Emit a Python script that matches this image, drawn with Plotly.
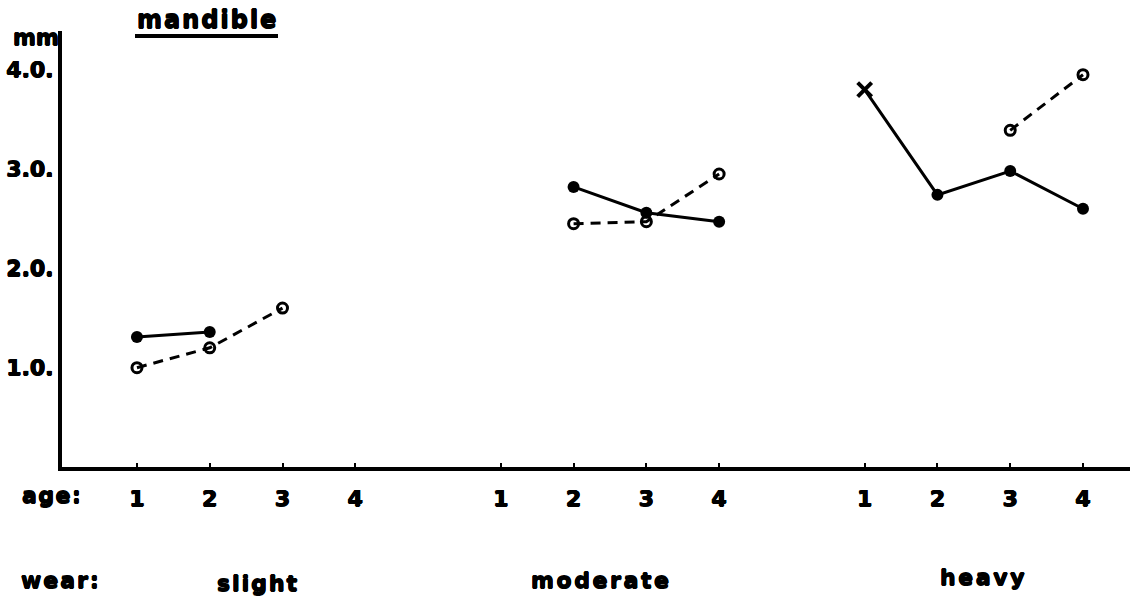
import plotly.graph_objects as go

# mandible measurements (mm) by wear class and age class
wear_classes = ["slight", "moderate", "heavy"]
age_labels = ["1", "2", "3", "4"]

# solid series (filled markers); heavy age 1 plotted as a cross
solid_slight_ages = [1, 2]
solid_slight_vals = [1.31, 1.36]
solid_moderate_ages = [2, 3, 4]
solid_moderate_vals = [2.82, 2.56, 2.47]
solid_heavy_ages = [1, 2, 3, 4]
solid_heavy_vals = [3.80, 2.74, 2.98, 2.60]

# dashed series (open markers)
open_slight_ages = [1, 2, 3]
open_slight_vals = [1.00, 1.20, 1.60]
open_moderate_ages = [2, 3, 4]
open_moderate_vals = [2.45, 2.47, 2.95]
open_heavy_ages = [3, 4]
open_heavy_vals = [3.39, 3.95]

y_ticks = [1, 2, 3, 4]
y_ticktext = ["1.0.", "2.0.", "3.0.", "4.0."]

GROUP_STEP = 5  # horizontal offset between wear blocks on the x scale

FONT = "DejaVu Sans"
# thin outline around glyphs to give a heavier face
HEAVY = ("0.6px 0 0 black, -0.6px 0 0 black, 0 0.6px 0 black, "
         "0 -0.6px 0 black")
W, H = 1133, 598
L, R, T, B = 62, 3, 31, 131


def pos(group, ages):
    return [group * GROUP_STEP + a for a in ages]


def join_groups(groups):
    xs, ys = [], []
    for i, (ages, vals) in enumerate(groups):
        if i:
            xs.append(None)
            ys.append(None)
        xs += ages
        ys += vals
    return xs, ys


solid_x, solid_y = join_groups([
    (pos(0, solid_slight_ages), solid_slight_vals),
    (pos(1, solid_moderate_ages), solid_moderate_vals),
    (pos(2, solid_heavy_ages), solid_heavy_vals),
])
open_x, open_y = join_groups([
    (pos(0, open_slight_ages), open_slight_vals),
    (pos(1, open_moderate_ages), open_moderate_vals),
    (pos(2, open_heavy_ages), open_heavy_vals),
])

# the first heavy-wear point is drawn as a cross, the rest as dots
cross_x = pos(2, solid_heavy_ages[:1])
cross_y = solid_heavy_vals[:1]
dot_x, dot_y = join_groups([
    (pos(0, solid_slight_ages), solid_slight_vals),
    (pos(1, solid_moderate_ages), solid_moderate_vals),
    (pos(2, solid_heavy_ages[1:]), solid_heavy_vals[1:]),
])

fig = go.Figure()
fig.add_trace(go.Scatter(
    x=open_x, y=open_y, mode="lines+markers", connectgaps=False,
    line=dict(color="black", width=3, dash="10px,7px"),
    marker=dict(symbol="circle-open", size=10, color="black", opacity=1,
                line=dict(color="black", width=3)),
    hoverinfo="skip", showlegend=False,
))
fig.add_trace(go.Scatter(
    x=solid_x, y=solid_y, mode="lines", connectgaps=False,
    line=dict(color="black", width=3),
    hoverinfo="skip", showlegend=False,
))
fig.add_trace(go.Scatter(
    x=dot_x, y=dot_y, mode="markers",
    marker=dict(symbol="circle", size=12, color="#000000", opacity=1,
                line=dict(width=0)),
    hoverinfo="skip", showlegend=False,
))
fig.add_trace(go.Scatter(
    x=cross_x, y=cross_y, mode="markers",
    marker=dict(symbol="x-thin", size=14, color="#000000", opacity=1,
                line=dict(color="#000000", width=4)),
    hoverinfo="skip", showlegend=False,
))

x_tickvals = []
x_ticktext = []
for g in range(len(wear_classes)):
    x_tickvals += pos(g, [1, 2, 3, 4])
    x_ticktext += age_labels

fig.update_xaxes(
    range=[-0.03, 14.646], showgrid=False, zeroline=False,
    showline=True, linecolor="black", linewidth=4,
    tickmode="array", tickvals=x_tickvals, ticktext=x_ticktext,
    ticks="inside", ticklen=4, tickwidth=2, tickcolor="black",
    ticklabelstandoff=9,
    tickfont=dict(family=FONT, size=22, color="black", weight="bold",
                  shadow=HEAVY),
)
fig.update_yaxes(
    range=[0, 4.39], showgrid=False, zeroline=False,
    showline=True, linecolor="black", linewidth=4,
    tickmode="array", tickvals=y_ticks, ticktext=y_ticktext,
    ticks="", ticklabelstandoff=0,
    tickfont=dict(family=FONT, size=22, color="black", weight="bold",
                  shadow=HEAVY),
)


def px_x(px):
    return (px - L) / (W - L - R)


def px_y(py):
    return (H - B - py) / (H - T - B)


def spaced(text, sp):
    return f'<span style="letter-spacing:{sp}px">{text}</span>'


def label(text, cx, cy, sp=2, size=22):
    fig.add_annotation(
        x=px_x(cx), y=px_y(cy), xref="paper", yref="paper",
        text=spaced(text, sp), showarrow=False,
        xanchor="center", yanchor="middle",
        font=dict(family=FONT, size=size, color="black", weight="bold",
                  shadow=HEAVY),
    )


label("mandible", 207, 20, sp=2, size=24)
fig.add_shape(type="line", xref="paper", yref="paper",
              x0=px_x(135), x1=px_x(278), y0=px_y(36), y1=px_y(36),
              line=dict(color="black", width=4))
label("mm", 36, 38, sp=0, size=22)
label("age:", 52, 495, sp=1.5)
label("wear:", 61, 580, sp=2)
label(wear_classes[0], 258, 583, sp=2)
label(wear_classes[1], 601, 580, sp=2.6)
label(wear_classes[2], 983, 577, sp=2.6)

fig.update_layout(
    width=W, height=H,
    margin=dict(l=L, r=R, t=T, b=B),
    paper_bgcolor="white", plot_bgcolor="white",
)

fig.write_html("out.html")
